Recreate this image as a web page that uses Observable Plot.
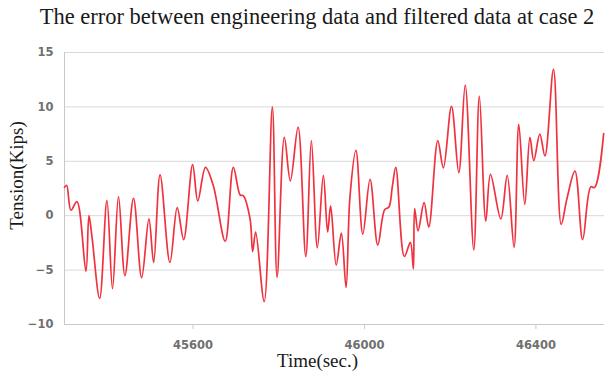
<!DOCTYPE html>
<html>
<head>
<meta charset="utf-8">
<script src="https://cdn.jsdelivr.net/npm/d3@7"></script>
<script src="https://cdn.jsdelivr.net/npm/@observablehq/plot@0.6"></script>
<style>
  html, body { margin: 0; padding: 0; background: #fff; }
  #chart { width: 606px; }
  .title {
    box-sizing: border-box;
    width: 606px;
    height: 40px;
    padding: 3px 0 0 28px;
    text-align: center;
    font-family: "Liberation Serif", "Times New Roman", serif;
    font-size: 22.5px;
    line-height: 28px;
    color: #1a1a1a;
    white-space: nowrap;
  }
  svg { display: block; }
</style>
</head>
<body>
<div id="chart">
  <div class="title">The error between engineering data and filtered data at case 2</div>
</div>
<script>
// Time stamps (s) of the error record
const times = [45300, 45305, 45315, 45329, 45350, 45357, 45364, 45382, 45399, 45412, 45426, 45441, 45461, 45480, 45497, 45508, 45523, 45546, 45563, 45578, 45599, 45611, 45629, 45647, 45675, 45694, 45710, 45717, 45733, 45739, 45746, 45766, 45785, 45796, 45813, 45827, 45845, 45863, 45876, 45890, 45904, 45914, 45921, 45934, 45946, 45957, 45966, 45980, 45996, 46013, 46031, 46047, 46057, 46065, 46073, 46093, 46107, 46114, 46117, 46125, 46139, 46150, 46171, 46184, 46203, 46220, 46235, 46255, 46268, 46283, 46294, 46318, 46333, 46349, 46360, 46374, 46386, 46395, 46409, 46421, 46441, 46459, 46472, 46491, 46509, 46528, 46537, 46558];
// Tension error (kips) at each time stamp
const tension = [2.6, 2.8, 0.5, 1.3, -5.1, 0, -1.9, -7.6, 1.4, -6.7, 1.75, -5.5, 1.6, -5.7, -0.3, -4.3, 3.75, -4.3, 0.75, -2.2, 4.7, 1.35, 4.45, 2.8, -2.35, 4.45, 1.9, 1.85, -0.3, -3.3, -1.5, -7.9, 10.0, -5.65, 7.2, 3.2, 8.15, -3.75, 6.9, -2.95, 3.7, -1.5, 0.9, -4.55, -1.6, -6.6, 1.7, 6.0, -1.7, 3.35, -2.7, 0.55, 0.8, 2.7, 4.45, -3.75, -2.45, -4.9, 0.65, -1.4, 1.2, -1.05, 6.9, 4.4, 10.05, 3.95, 12.0, -3.15, 11.0, -0.5, 3.8, -0.3, 3.7, -2.9, 8.4, 1.05, 7.2, 5.05, 7.5, 5.5, 13.45, -0.8, 1.5, 4.1, -2.2, 2.65, 2.6, 7.55];

const xTicks = [45600, 46000, 46400];
const yTicks = [-10, -5, 0, 5, 10, 15];
const xDomain = [45300, 46560];
const yDomain = [-10, 15];

const series = times.map((t, i) => ({time: t, value: tension[i]}));

const serif = "Liberation Serif, Times New Roman, serif";

const chart = Plot.plot({
  width: 606,
  height: 334,
  marginLeft: 64,
  marginRight: 2,
  marginTop: 12,
  marginBottom: 50,
  style: {
    fontFamily: "DejaVu Sans, sans-serif",
    fontSize: "11.5px",
    fontWeight: "bold",
    background: "#fff"
  },
  x: {domain: xDomain},
  y: {domain: yDomain},
  marks: [
    Plot.gridY(yTicks.filter(d => d > -10), {stroke: "#d9d9d9", strokeOpacity: 1, strokeWidth: 1}),
    Plot.ruleY([-10], {stroke: "#c8c8c8", strokeWidth: 1}),
    Plot.ruleX([xDomain[0]], {stroke: "#c8c8c8", strokeWidth: 1}),
    Plot.axisY({ticks: yTicks, tickSize: 0, tickPadding: 11, label: null, fill: "#707070"}),
    Plot.axisX({ticks: xTicks, tickSize: 5, tickPadding: 11, tickFormat: d => String(d), label: null, stroke: "#c8c8c8", fill: "#707070"}),
    Plot.line(series, {x: "time", y: "value", curve: "catmull-rom", stroke: "#f0323f", strokeWidth: 1.7}),
    Plot.text(["Time(sec.)"], {frameAnchor: "bottom", lineAnchor: "middle", textAnchor: "middle", dx: -17, dy: 36, text: d => d, fontFamily: serif, fontSize: 19, fontWeight: "normal", fill: "#1a1a1a"}),
    Plot.text(["Tension(Kips)"], {frameAnchor: "left", lineAnchor: "middle", textAnchor: "middle", rotate: -90, dx: -48, dy: -13, text: d => d, fontFamily: serif, fontSize: 19, fontWeight: "normal", fill: "#1a1a1a"})
  ]
});

document.getElementById("chart").appendChild(chart);
</script>
</body>
</html>
